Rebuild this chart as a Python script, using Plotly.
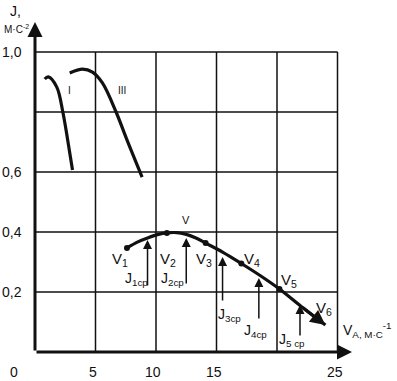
import plotly.graph_objects as go

# ---- data ----
curve1_x = [0.8, 1.1, 1.8, 2.3, 2.7, 3.1]
curve1_y = [0.91, 0.917, 0.883, 0.80, 0.707, 0.607]

curve3_x = [2.87, 3.93, 4.75, 5.57, 6.7, 7.6, 8.85]
curve3_y = [0.93, 0.943, 0.933, 0.897, 0.80, 0.707, 0.583]

main_x = [7.6, 8.5, 9.3, 10.2, 10.9, 11.7, 12.5, 13.3, 14.1, 15.5, 17.05, 18.6, 20.2, 22.0, 24.0]
main_y = [0.347, 0.367, 0.38, 0.392, 0.397, 0.398, 0.392, 0.38, 0.363, 0.333, 0.295, 0.255, 0.21, 0.152, 0.09]

v_points_x = [7.6, 10.9, 14.1, 17.05, 20.2]
v_points_y = [0.347, 0.397, 0.363, 0.295, 0.21]

v_labels = ["V<sub>1</sub>", "V<sub>2</sub>", "V<sub>3</sub>", "V<sub>4</sub>", "V<sub>5</sub>", "V<sub>6</sub>"]
v_label_x = [7.0, 11.0, 14.0, 17.9, 21.0, 23.9]
v_label_y = [0.31, 0.31, 0.31, 0.31, 0.24, 0.145]

j_labels = ["J<sub>1cp</sub>", "J<sub>2cp</sub>", "J<sub>3cp</sub>", "J<sub>4cp</sub>", "J<sub>5 cp</sub>"]
j_arrow_x = [9.3, 12.5, 15.5, 18.5, 21.9]
j_arrow_top = [0.373, 0.38, 0.317, 0.247, 0.157]
j_arrow_bottom = [0.217, 0.223, 0.167, 0.107, 0.05]
j_label_x = [8.4, 11.4, 16.1, 18.2, 21.2]
j_label_y = [0.245, 0.245, 0.125, 0.07, 0.04]

x_grid = [5, 10, 15, 20, 25]
y_grid = [0.2, 0.4, 0.6, 0.8, 1.0]
x_tick_vals = [0, 5, 10, 15, 25]
x_tick_text = ["0", "5", "10", "15", "25"]
y_tick_vals = [1.0, 0.6, 0.4, 0.2]
y_tick_text = ["1,0", "0,6", "0,4", "0,2"]

FONT = "Liberation Sans, Arial, sans-serif"
BLACK = "#111111"

W, H = 397, 381
ML, MR, MT, MB = 35, 42, 22, 29
pw, ph = W - ML - MR, H - MT - MB
XSCALE = 12.1  # px per x unit


def px_x(p):
    return (p - ML) / pw


def px_y(p):
    return ((H - p) - MB) / ph


fig = go.Figure()

for cx, cy in [(curve1_x, curve1_y), (curve3_x, curve3_y), (main_x, main_y)]:
    fig.add_trace(go.Scatter(x=cx, y=cy, mode="lines", line=dict(color=BLACK, width=3.2, shape="spline"),
                             hoverinfo="skip"))
fig.add_trace(go.Scatter(x=v_points_x, y=v_points_y, mode="markers", marker=dict(color=BLACK, size=6),
                         hoverinfo="skip"))

shapes = []
for gx in x_grid:
    shapes.append(dict(type="line", xref="x", yref="y", x0=gx, x1=gx, y0=0, y1=1.0,
                       line=dict(color=BLACK, width=1.5), layer="below"))
for gy in y_grid:
    shapes.append(dict(type="line", xref="x", yref="y", x0=0, x1=25, y0=gy, y1=gy,
                       line=dict(color=BLACK, width=1.5), layer="below"))

ann = []
# axes with arrows
ann.append(dict(x=26.2, y=0, ax=0, ay=0, xref="x", yref="y", axref="x", ayref="y", text="",
                showarrow=True, arrowhead=2, arrowsize=1, arrowwidth=3, arrowcolor=BLACK))
ann.append(dict(x=0, y=1.1, ax=0, ay=0, xref="x", yref="y", axref="x", ayref="y", text="",
                showarrow=True, arrowhead=2, arrowsize=1, arrowwidth=3, arrowcolor=BLACK))
# V6 arrowhead at end of main curve
ann.append(dict(x=main_x[-1], y=main_y[-1], ax=main_x[-2], ay=main_y[-2], xref="x", yref="y", axref="x", ayref="y",
                text="", showarrow=True, arrowhead=2, arrowsize=1, arrowwidth=3, arrowcolor=BLACK))

# x tick labels (below the axis, outside the data range -> paper coords)
for v, t in zip(x_tick_vals, x_tick_text):
    pxl = 14 if v == 0 else ML + v * XSCALE - 3
    ann.append(dict(x=px_x(pxl), y=px_y(372), xref="paper", yref="paper", text=t, showarrow=False,
                    xanchor="center", yanchor="middle",
                    font=dict(family=FONT, size=14, color=BLACK)))
# y tick labels
for v, t in zip(y_tick_vals, y_tick_text):
    ann.append(dict(x=px_x(11.5), y=v, xref="paper", yref="y", text=t, showarrow=False,
                    xanchor="center", yanchor="middle",
                    font=dict(family=FONT, size=14, color=BLACK)))

# J arrows & labels
for xj, yt, yb, lt, lx, ly in zip(j_arrow_x, j_arrow_top, j_arrow_bottom, j_labels, j_label_x, j_label_y):
    ann.append(dict(x=xj, y=yt, ax=xj, ay=yb, xref="x", yref="y", axref="x", ayref="y", text="",
                    showarrow=True, arrowhead=2, arrowsize=1.2, arrowwidth=1.5, arrowcolor=BLACK))
    ann.append(dict(x=lx, y=ly, xref="x", yref="y", text=lt, showarrow=False,
                    font=dict(family=FONT, size=14, color=BLACK)))

for lt, lx, ly in zip(v_labels, v_label_x, v_label_y):
    ann.append(dict(x=lx, y=ly, xref="x", yref="y", text=lt, showarrow=False,
                    font=dict(family=FONT, size=15, color=BLACK)))

# curve labels
ann.append(dict(x=2.87, y=0.873, xref="x", yref="y", text="I", showarrow=False,
                font=dict(family=FONT, size=10, color=BLACK)))
ann.append(dict(x=7.2, y=0.873, xref="x", yref="y", text="III", showarrow=False,
                font=dict(family=FONT, size=10, color=BLACK)))
ann.append(dict(x=12.5, y=0.44, xref="x", yref="y", text="V", showarrow=False,
                font=dict(family=FONT, size=11, color=BLACK)))

# axis titles
ann.append(dict(x=px_x(8), y=px_y(11), xref="paper", yref="paper", text="J,", showarrow=False,
                xanchor="left", yanchor="middle", font=dict(family=FONT, size=14, color=BLACK)))
ann.append(dict(x=px_x(2), y=px_y(29), xref="paper", yref="paper", text="M·C<sup>-2</sup>", showarrow=False,
                xanchor="left", yanchor="middle", font=dict(family=FONT, size=10, color=BLACK)))
ann.append(dict(x=px_x(341), y=px_y(330), xref="paper", yref="paper", text="V<sub>A, M·C</sub><sup>-1</sup>",
                showarrow=False, xanchor="left", yanchor="middle", font=dict(family=FONT, size=14, color=BLACK)))

fig.update_layout(
    width=W, height=H,
    margin=dict(l=ML, r=MR, t=MT, b=MB, pad=0),
    paper_bgcolor="white", plot_bgcolor="white",
    showlegend=False,
    xaxis=dict(range=[0, pw / XSCALE], visible=False, fixedrange=True),
    yaxis=dict(range=[0, 1.1], visible=False, fixedrange=True),
    shapes=shapes,
    annotations=ann,
)

fig.write_html("out.html", config={"displayModeBar": False, "staticPlot": True},
               post_script="document.body.style.margin='0';document.body.style.overflow='hidden';")
